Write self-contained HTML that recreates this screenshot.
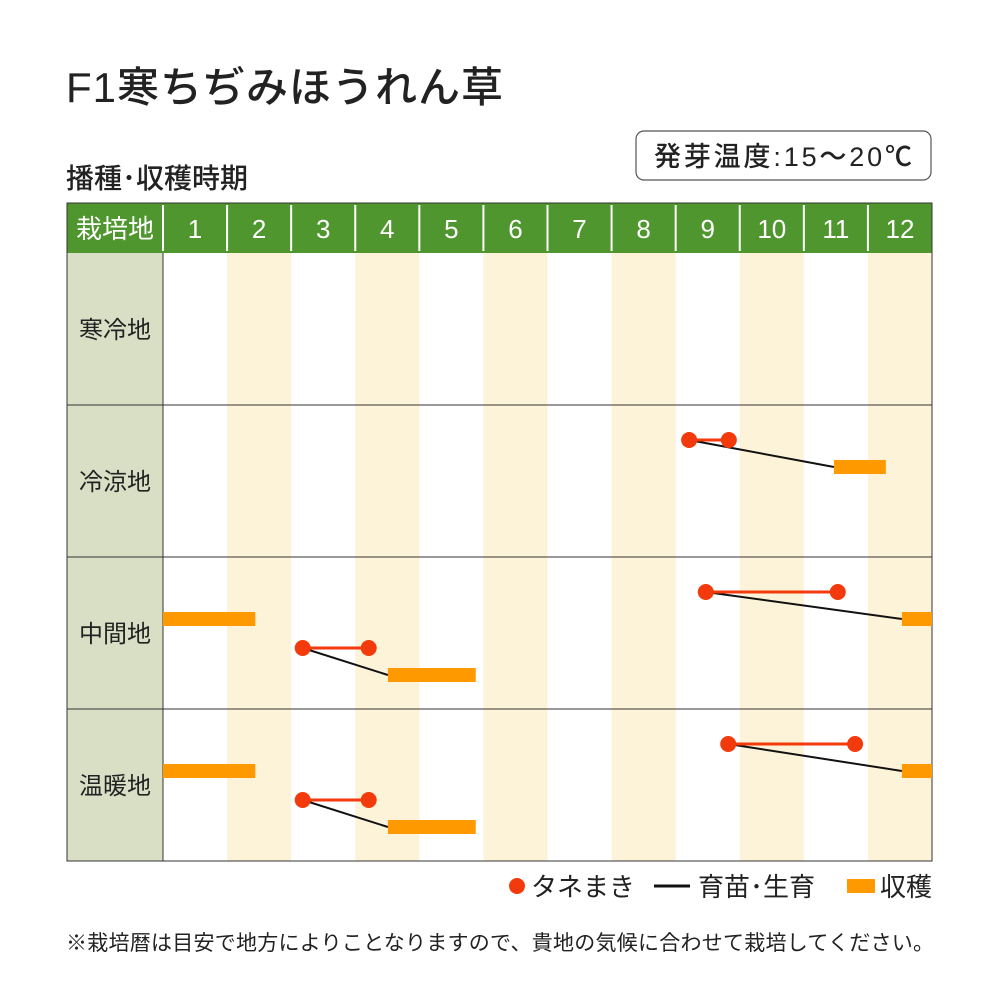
<!DOCTYPE html>
<html><head><meta charset="utf-8"><style>
body{margin:0;background:#fff;}
svg text{font-family:"Liberation Sans","Noto Sans CJK JP",sans-serif;}
</style></head><body>
<svg id="c" width="1000" height="1000" viewBox="0 0 1000 1000" xmlns="http://www.w3.org/2000/svg">
<text x="66" y="102" font-size="42" letter-spacing="1" fill="#222" font-weight="500">F1寒ちぢみほうれん草</text>
<text x="66" y="188" font-size="28" fill="#222" font-weight="500">播種･収穫時期</text>
<rect x="636" y="131" width="295" height="49" rx="8" fill="#fff" stroke="#555" stroke-width="1.2"/>
<text x="783" y="166" font-size="27" fill="#222" font-weight="500" text-anchor="middle" textLength="258">発芽温度:15～20℃</text>
<g id="grid"></g>
<g id="marks"></g>
<g>
<circle cx="517" cy="886" r="8" fill="#f23a0c"/>
<text x="531" y="896" font-size="26" fill="#222">タネまき</text>
<line x1="654" y1="886" x2="690" y2="886" stroke="#111" stroke-width="3"/>
<text x="698" y="896" font-size="26" fill="#222">育苗･生育</text>
<rect x="847" y="879" width="28" height="14" fill="#ff9900"/>
<text x="880" y="896" font-size="26" fill="#222">収穫</text>
</g>
<text x="66" y="950" font-size="21" fill="#222" textLength="868">※栽培暦は目安で地方によりことなりますので、貴地の気候に合わせて栽培してください。</text>
</svg>
<script>
const months = ["1","2","3","4","5","6","7","8","9","10","11","12"];
const regions = ["寒冷地","冷涼地","中間地","温暖地"];
const sowRegion = [1,2,2,3,3];
const sowLane = [0,0,1,0,1];
const sowStart = [8.21,8.47,2.18,8.82,2.18];
const sowEnd = [8.83,10.53,3.21,10.8,3.21];
const harvStart = [10.47,11.53,3.51,11.53,3.51];
const harvEnd = [11.28,12,4.88,12,4.88];
const extraHarvRegion = [2,3];
const extraHarvStart = [0,0];
const extraHarvEnd = [1.44,1.44];

const NS="http://www.w3.org/2000/svg";
const X0=163,X1=932,HT=203,HB=253,RH=152;
const xs=m=>X0+(X1-X0)*m/12;
const rowTop=r=>HB+RH*r;
function mk(tag,attrs,parent){const e=document.createElementNS(NS,tag);for(const k in attrs)e.setAttribute(k,attrs[k]);parent.appendChild(e);return e;}
const grid=document.getElementById('grid'), marks=document.getElementById('marks');
let h=mk('rect',{x:67,y:HT,width:X1-67,height:HB-HT,fill:'#4f962e'},grid);


let lc=mk('rect',{x:67,y:HB,width:X0-67,height:RH*4,fill:'#d8dfc5'},grid);


let ht=mk('text',{x:115,y:238,'font-size':26,fill:'#fff','text-anchor':'middle'},grid);ht.textContent='栽培地';


months.forEach((m,i)=>{
  const x=xs(i),w=xs(i+1)-xs(i);
  if(i%2==1){const b=mk('rect',{x:x,y:HB,width:w,height:RH*4,fill:'#fdf3d9'},grid);
    
    }
  mk('line',{x1:x,y1:HT+2,x2:x,y2:HB-2,stroke:'#fff','stroke-width':2},grid);
  const t=mk('text',{x:x+w/2,y:238,'font-size':26,fill:'#fff','text-anchor':'middle'},grid);t.textContent=m;
  
  
});
mk('line',{x1:X0,y1:HT+2,x2:X0,y2:HB-2,stroke:'#fff','stroke-width':2},grid);
regions.forEach((r,i)=>{
  const y=rowTop(i);
  if(i>0)mk('line',{x1:67,y1:y,x2:X1,y2:y,stroke:'#333','stroke-width':1},grid);
  const t=mk('text',{x:115,y:y+RH/2+9,'font-size':24,fill:'#222','text-anchor':'middle'},grid);t.textContent=r;
  
  
});
mk('line',{x1:X0,y1:HB,x2:X0,y2:HB+RH*4,stroke:'#333','stroke-width':1},grid);
mk('rect',{x:67,y:HT,width:X1-67,height:HB+RH*4-HT,fill:'none',stroke:'#333','stroke-width':1},grid);

const dotY=(r,l)=>rowTop(r)+35+l*56;
const barY=(r,l)=>rowTop(r)+55+l*56;
sowStart.forEach((s,i)=>{
  const r=sowRegion[i],l=sowLane[i],dy=dotY(r,l),by=barY(r,l);
  const g=mk('g',{},marks);
  
  
  mk('line',{x1:xs(s),y1:dy,x2:xs(harvStart[i]),y2:by+7,stroke:'#111','stroke-width':2},g);
  mk('line',{x1:xs(s),y1:dy,x2:xs(sowEnd[i]),y2:dy,stroke:'#f23a0c','stroke-width':3},g);
  const c1=mk('circle',{cx:xs(s),cy:dy,r:8,fill:'#f23a0c'},g);
  
  
  const c2=mk('circle',{cx:xs(sowEnd[i]),cy:dy,r:8,fill:'#f23a0c'},g);
  
  
  const b=mk('rect',{x:xs(harvStart[i]),y:by,width:xs(harvEnd[i])-xs(harvStart[i]),height:14,fill:'#ff9900'},g);
  
  
});
extraHarvStart.forEach((s,i)=>{
  const r=extraHarvRegion[i];
  const b=mk('rect',{x:xs(s),y:barY(r,0),width:xs(extraHarvEnd[i])-xs(s),height:14,fill:'#ff9900'},marks);
  
  
});
</script>
</body></html>
